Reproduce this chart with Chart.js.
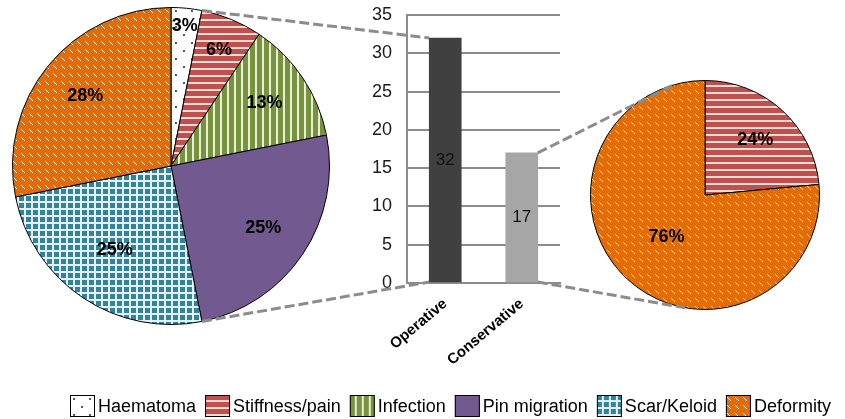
<!DOCTYPE html>
<html>
<head>
<meta charset="utf-8">
<script src="https://cdn.jsdelivr.net/npm/chart.js@4.4.0/dist/chart.umd.min.js"></script>
<style>
  body { margin: 0; background: #fff; width: 845px; height: 419px; position: relative; overflow: hidden; }
  canvas { position: absolute; }
  #opPie { left: 12px; top: 7px; }
  #bars { left: 340px; top: 0; }
  #conPie { left: 590px; top: 80px; }
  #overlay { left: 0; top: 0; pointer-events: none; }
</style>
</head>
<body>
<canvas id="opPie" width="318" height="318"></canvas>
<canvas id="bars" width="230" height="370"></canvas>
<canvas id="conPie" width="230" height="230"></canvas>
<canvas id="overlay" width="845" height="419"></canvas>
<script>
// complication counts (operative n=32, conservative n=17)
const complications = ['Haematoma', 'Stiffness/pain', 'Infection', 'Pin migration', 'Scar/Keloid', 'Deformity'];
const operativeCounts = [1, 2, 4, 8, 8, 9];
const conservativeLabels = ['Stiffness/pain', 'Deformity'];
const conservativeCounts = [4, 13];
const groups = ['Operative', 'Conservative'];
const groupTotals = [32, 17];
const yTicks = [0, 5, 10, 15, 20, 25, 30, 35];

const FONT = "'Liberation Sans', Arial, Helvetica, sans-serif";
Chart.defaults.font.family = FONT;

function makePattern(ctx, name) {
    const c = document.createElement('canvas');
    const g = c.getContext('2d');
    if (name === 'Haematoma') {
        c.width = 16; c.height = 16;
        g.fillStyle = '#fff'; g.fillRect(0, 0, 16, 16);
        g.fillStyle = '#3d5f96';
        g.fillRect(3, 3, 2, 2); g.fillRect(11, 11, 2, 2);
    } else if (name === 'Stiffness/pain') {
        c.width = 8; c.height = 7;
        g.fillStyle = '#c0504d'; g.fillRect(0, 0, 8, 7);
        g.fillStyle = '#f3dcd5'; g.fillRect(0, 5, 8, 2);
    } else if (name === 'Infection') {
        c.width = 7; c.height = 8;
        g.fillStyle = '#77933c'; g.fillRect(0, 0, 7, 8);
        g.fillStyle = '#e8eedb'; g.fillRect(5, 0, 2, 8);
    } else if (name === 'Pin migration') {
        return '#725990';
    } else if (name === 'Scar/Keloid') {
        c.width = 7; c.height = 7;
        g.fillStyle = '#e4f1f5'; g.fillRect(0, 0, 7, 7);
        g.fillStyle = '#31849b'; g.fillRect(0, 0, 5, 5);
    } else {
        c.width = 8; c.height = 8;
        g.fillStyle = '#e36c09'; g.fillRect(0, 0, 8, 8);
        g.fillStyle = '#fff1e4';
        for (let k = 0; k < 4; k++) g.fillRect(1 + k, 2 + k, 1, 1);
    }
    return ctx.createPattern(c, 'repeat');
}

const pieLabels = {
    id: 'pieLabels',
    afterDatasetsDraw(chart, args, opts) {
        const ctx = chart.ctx;
        const data = chart.data.datasets[0].data;
        const total = data.reduce((a, b) => a + b, 0);
        ctx.save();
        ctx.font = 'bold 18px ' + FONT;
        ctx.fillStyle = '#000';
        ctx.textAlign = 'center';
        ctx.textBaseline = 'middle';
        chart.getDatasetMeta(0).data.forEach((arc, i) => {
            const p = arc.getProps(['x', 'y', 'startAngle', 'endAngle', 'outerRadius'], true);
            const mid = (p.startAngle + p.endAngle) / 2;
            const r = p.outerRadius * opts.radius[i];
            ctx.fillText(Math.round(data[i] / total * 100) + '%', p.x + Math.cos(mid) * r, p.y + Math.sin(mid) * r);
        });
        ctx.restore();
    }
};

const barValues = {
    id: 'barValues',
    afterDatasetsDraw(chart) {
        const ctx = chart.ctx;
        ctx.save();
        ctx.font = '17px ' + FONT;
        ctx.fillStyle = '#111';
        ctx.textAlign = 'center';
        ctx.textBaseline = 'middle';
        chart.getDatasetMeta(0).data.forEach((bar, i) => {
            ctx.fillText(groupTotals[i], bar.x, (bar.y + bar.base) / 2);
        });
        ctx.restore();
    }
};

const opCtx = document.getElementById('opPie').getContext('2d');
const opChart = new Chart(opCtx, {
    type: 'pie',
    data: {
        labels: complications,
        datasets: [{
            data: operativeCounts,
            backgroundColor: complications.map(n => makePattern(opCtx, n)),
            borderColor: '#000',
            borderWidth: 1,
        }]
    },
    options: {
        responsive: false,
        animation: false,
        plugins: {
            legend: { display: false },
            tooltip: { enabled: false },
            pieLabels: { radius: [0.89, 0.79, 0.71, 0.70, 0.64, 0.70] }
        }
    },
    plugins: [pieLabels]
});

const conCtx = document.getElementById('conPie').getContext('2d');
const conChart = new Chart(conCtx, {
    type: 'pie',
    data: {
        labels: conservativeLabels,
        datasets: [{
            data: conservativeCounts,
            backgroundColor: conservativeLabels.map(n => makePattern(conCtx, n)),
            borderColor: '#000',
            borderWidth: 1,
        }]
    },
    options: {
        responsive: false,
        animation: false,
        plugins: {
            legend: { display: false },
            tooltip: { enabled: false },
            pieLabels: { radius: [0.65, 0.5] }
        }
    },
    plugins: [pieLabels]
});

const barChart = new Chart(document.getElementById('bars'), {
    type: 'bar',
    data: {
        labels: groups,
        datasets: [{
            data: groupTotals,
            backgroundColor: ['#404040', '#a6a6a6'],
            barThickness: 32,
        }]
    },
    options: {
        responsive: false,
        animation: false,
        layout: { padding: { top: 15, right: 10, left: 0, bottom: 0 } },
        plugins: { legend: { display: false }, tooltip: { enabled: false } },
        scales: {
            x: {
                grid: { display: false },
                border: { color: '#8c8c8c', width: 2 },
                ticks: { color: '#000', font: { size: 15, weight: 'bold' }, minRotation: 40, maxRotation: 40, padding: 4 },
                afterFit(s) { s.height = 87; }
            },
            y: {
                min: yTicks[0],
                max: yTicks[yTicks.length - 1],
                ticks: { stepSize: yTicks[1] - yTicks[0], color: '#1a1a1a', font: { size: 18 }, padding: 15 },
                grid: { color: '#8c8c8c', lineWidth: 2, drawTicks: false },
                border: { color: '#8c8c8c', width: 2 },
                afterFit(s) { s.width = 67; s.paddingTop = 0; s.paddingBottom = 0; }
            }
        }
    },
    plugins: [barValues]
});

// connectors + legend
const ov = document.getElementById('overlay').getContext('2d');

function pagePoint(chart, x, y) {
    const c = chart.canvas;
    return [c.offsetLeft + x, c.offsetTop + y];
}
function piePoint(chart, deg) {
    const arc = chart.getDatasetMeta(0).data[0];
    const a = (deg - 90) * Math.PI / 180;
    return pagePoint(chart, arc.x + Math.cos(a) * arc.outerRadius, arc.y + Math.sin(a) * arc.outerRadius);
}
const bars = barChart.getDatasetMeta(0).data;
const opBar = bars[0], conBar = bars[1];
const firstEnd = opChart.getDatasetMeta(0).data[0].endAngle * 180 / Math.PI + 90;

const links = [
    [piePoint(opChart, firstEnd), pagePoint(barChart, opBar.x - opBar.width / 2, opBar.y)],
    [piePoint(opChart, 180 - firstEnd), pagePoint(barChart, opBar.x - opBar.width / 2, opBar.base)],
    [pagePoint(barChart, conBar.x + conBar.width / 2, conBar.y), piePoint(conChart, -16)],
    [pagePoint(barChart, conBar.x + conBar.width / 2, conBar.base), piePoint(conChart, 190)]
];
ov.save();
ov.strokeStyle = '#8c8c8c';
ov.lineWidth = 3;
ov.setLineDash([10, 4]);
links.forEach(([a, b]) => {
    ov.beginPath();
    ov.moveTo(a[0], a[1]);
    ov.lineTo(b[0], b[1]);
    ov.stroke();
});
ov.restore();

let lx = 70;
const by = 395, bw = 25, bh = 22;
ov.font = '18px ' + FONT;
ov.textBaseline = 'middle';
complications.forEach(name => {
    ov.fillStyle = makePattern(ov, name);
    ov.save();
    ov.translate(lx, by);
    ov.fillRect(0, 0, bw, bh);
    ov.restore();
    ov.strokeStyle = '#000';
    ov.lineWidth = 1;
    ov.strokeRect(lx + 0.5, by + 0.5, bw - 1, bh - 1);
    ov.fillStyle = '#000';
    ov.fillText(name, lx + bw + 3, by + bh / 2 + 1);
    lx += bw + 3 + ov.measureText(name).width + 9;
});
</script>
</body>
</html>
